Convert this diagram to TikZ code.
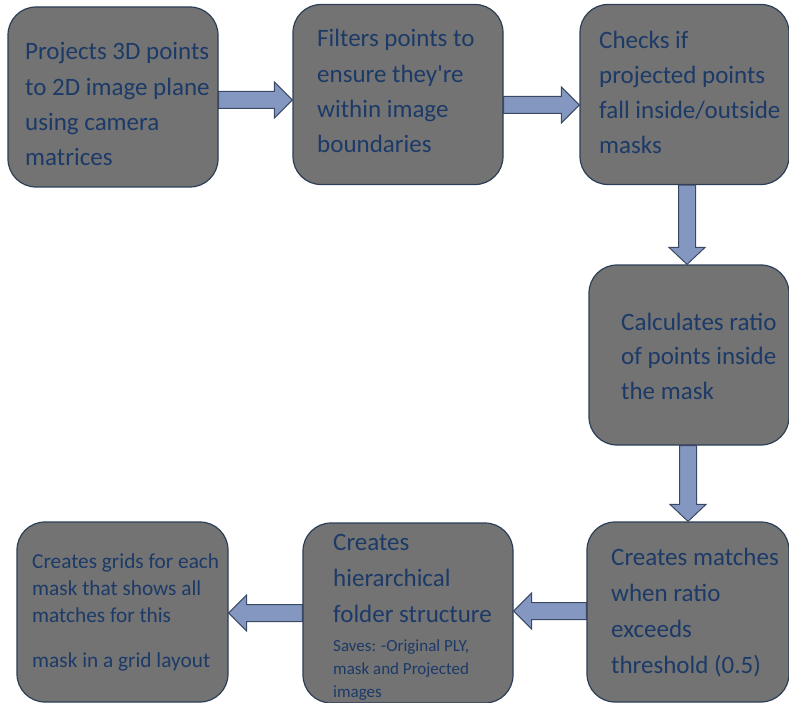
\documentclass[tikz,border=0pt]{standalone}
\usepackage{fontspec}
\setmainfont{Carlito}[Ligatures=TeXOff]
\usetikzlibrary{calc}
\definecolor{boxfill}{RGB}{115,115,115}
\definecolor{boxline}{RGB}{44,62,86}
\definecolor{txtcol}{RGB}{28,58,104}
\definecolor{arrowfill}{RGB}{132,151,192}
\definecolor{arrowline}{RGB}{58,72,100}
\tikzset{
  stepbox/.style={draw=boxline, fill=boxfill, line width=1.2pt, rounded corners=28pt,
    inner sep=0pt, minimum width=#1, minimum height=180pt},
  stepbox/.default=210pt,
  txt/.style={text=txtcol, inner sep=0pt, anchor=base west, font=\fontsize{25}{30}\selectfont},
  txtm/.style={txt, font=\fontsize{21.3}{25}\selectfont},
  txts/.style={txt, font=\fontsize{17}{20}\selectfont},
  barrow/.style={draw=arrowline, fill=arrowfill, line width=1pt, line join=miter}
}
% horizontal block arrow: start, tip, direction (+1 right, -1 left)
\newcommand\harrow[3]{%
  \path[barrow] let \p1=(#1), \p2=(#2) in
    (\x1,\y1+8.5pt) -- ({\x2-#3*18pt},\y1+8.5pt) -- ({\x2-#3*18pt},\y1+18pt) --
    (\x2,\y1) -- ({\x2-#3*18pt},\y1-18pt) -- ({\x2-#3*18pt},\y1-8.5pt) --
    (\x1,\y1-8.5pt) -- cycle;}
% downward block arrow: start, tip
\newcommand\varrow[2]{%
  \path[barrow] let \p1=(#1), \p2=(#2) in
    (\x1-8.5pt,\y1) -- (\x1-8.5pt,\y2+17pt) -- (\x1-18pt,\y2+17pt) --
    (\x1,\y2) -- (\x1+18pt,\y2+17pt) -- (\x1+8.5pt,\y2+17pt) --
    (\x1+8.5pt,\y1) -- cycle;}
\begin{document}
\begin{tikzpicture}[x=1pt,y=-1pt]
\useasboundingbox (0,0) rectangle (789,703);
% boxes
\node[stepbox] (b1) at (113,97) {};
\node[stepbox] (b2) at (398,94.5) {};
\node[stepbox=209pt] (b3) at (684.5,94.5) {};
\node[stepbox=200pt] (b4) at (689,355) {};
\node[stepbox=202pt] (b5) at (688,612) {};
\node[stepbox] (b6) at (408,613) {};
\node[stepbox=211pt] (b7) at (122.5,612) {};
% texts
\foreach \t [count=\i] in {Projects 3D points, to 2D image plane, using camera, matrices}
  \node[txt] (b1l\i) at (25,{60+(\i-1)*35.3}) {\t};
\foreach \t [count=\i] in {Filters points to, ensure they're, within image, boundaries}
  \node[txt] (b2l\i) at (317,{47+(\i-1)*35.3}) {\t};
\foreach \t [count=\i] in {Checks if, projected points, fall inside/outside, masks}
  \node[txt] (b3l\i) at (599,{49+(\i-1)*34.7}) {\t};
\foreach \t [count=\i] in {Calculates ratio, of points inside, the mask}
  \node[txt] (b4l\i) at (621,{330+(\i-1)*34.5}) {\t};
\foreach \t [count=\i] in {Creates matches, when ratio, exceeds, threshold (0.5)}
  \node[txt] (b5l\i) at (611,{565+(\i-1)*36}) {\t};
\foreach \t [count=\i] in {Creates, hierarchical, folder structure}
  \node[txt] (b6l\i) at (333,{550+(\i-1)*36}) {\t};
\foreach \t [count=\i] in {{Saves: -Original PLY,}, mask and Projected, images}
  \node[txts] (b6s\i) at (333,{651+(\i-1)*23}) {\t};
\foreach \t [count=\i] in {Creates grids for each, mask that shows all, matches for this}
  \node[txtm] (b7l\i) at (32,{568+(\i-1)*27}) {\t};
\node[txtm] (b7l4) at (32,667) {mask in a grid layout};
% arrows
\harrow{$(b1.east)+(0,3)$}{$(b2.west)+(0,5.5)$}{1}
\harrow{$(b2.east)+(0,10.5)$}{$(b3.west)+(0,10.5)$}{1}
\varrow{$(b3.south)+(2.5,0)$}{$(b4.north)+(-2,0)$}
\varrow{$(b4.south)+(-1,0)$}{b5.north}
\harrow{$(b5.west)+(0,-1)$}{$(b6.east)+(0,-2)$}{-1}
\harrow{$(b6.west)+(0,0)$}{$(b7.east)+(0,1)$}{-1}
\end{tikzpicture}
\end{document}
